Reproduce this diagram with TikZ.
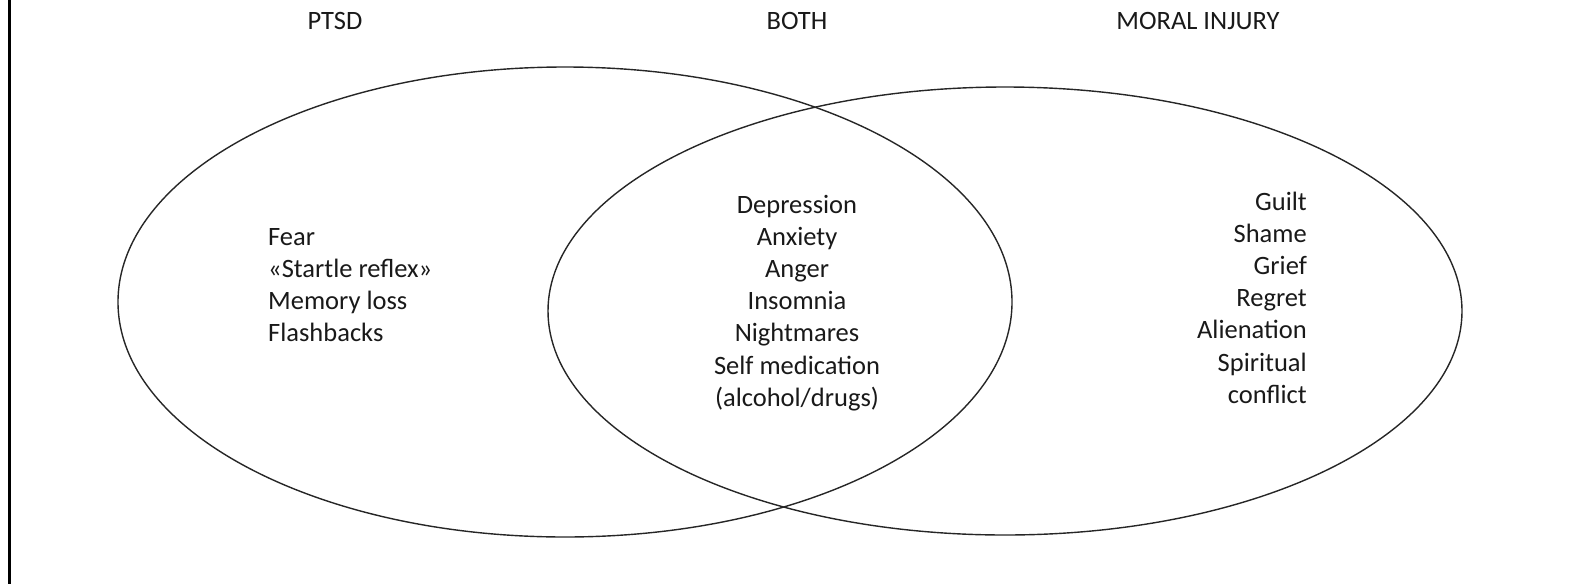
\documentclass[tikz,border=0pt]{standalone}
\usepackage{fontspec}
\setmainfont{Carlito}
\begin{document}
\begin{tikzpicture}[x=1pt,y=-1pt,
  lbl/.style={inner sep=0pt,font=\fontsize{26.5}{32}\selectfont,text=black!90},
  set/.style={draw=black!85,line width=1.4pt}]
\useasboundingbox (0,0) rectangle (1573,584);
\draw[line width=2.2pt] (9.5,0) -- (9.5,584);
\draw[set] (565,302) ellipse [x radius=447, y radius=235];
\draw[set] (1005,311) ellipse [x radius=457, y radius=224];
\node[lbl,anchor=base] (hp) at (335,29) {PTSD};
\node[lbl,anchor=base] (hb) at (797,29) {BOTH};
\node[lbl,anchor=base] (hm) at (1198,29) {MORAL INJURY};
\foreach \t [count=\i] in {Fear,«Startle reflex»,Memory loss,Flashbacks}
  \node[lbl,anchor=base west] (l\i) at (268,{245+32.3*(\i-1)}) {\t};
\foreach \t [count=\i] in {Depression,Anxiety,Anger,Insomnia,Nightmares,Self medication,(alcohol/drugs)}
  \node[lbl,anchor=base] (c\i) at (797,{213+32.2*(\i-1)}) {\t};
\foreach \t [count=\i] in {Guilt,Shame,Grief,Regret,Alienation,Spiritual,conflict}
  \node[lbl,anchor=base east] (r\i) at (1307,{210+32.2*(\i-1)}) {\t};
\end{tikzpicture}
\end{document}
